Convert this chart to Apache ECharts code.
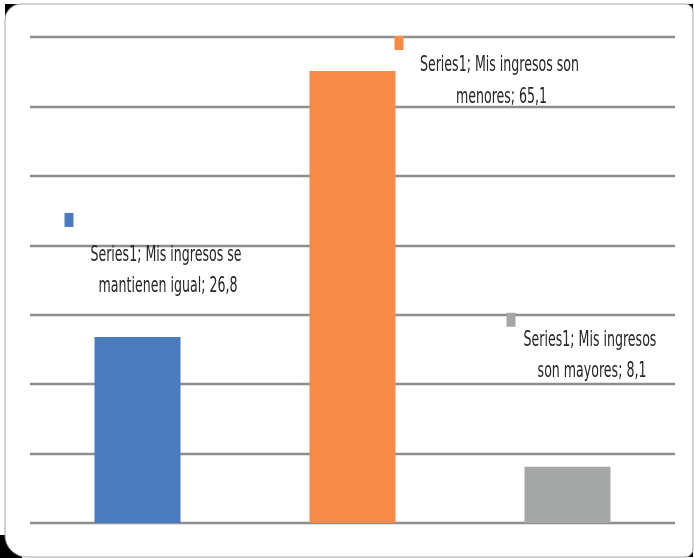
<!DOCTYPE html>
<html>
<head>
<meta charset="utf-8">
<script src="https://cdn.jsdelivr.net/npm/echarts@6/dist/echarts.min.js"></script>
<style>
  html, body { margin: 0; padding: 0; background: #ffffff; }
  #chart { width: 694px; height: 558px; }
</style>
</head>
<body>
<div id="chart"></div>
<script>
// Survey answers: how income has changed
const seriesName = 'Series1';
const categories = ['Mis ingresos se mantienen igual', 'Mis ingresos son menores', 'Mis ingresos son mayores'];
const values = [26.8, 65.1, 8.1];
const barColors = ['#4a7bbe', '#f58b47', '#a5a7a7'];

// Axis range (labels hidden, gridlines only)
const yMin = 0;
const yMax = 70;
const yStep = 10;

// Where each data label sits relative to the top of its bar
const labelLayout = [
  { textDx: 30.5, textDy: -66, wrap: 168, markDx: -73, markDy: -124 },
  { textDx: 149, textDy: 10, wrap: 178, markDx: 42, markDy: -35 },
  { textDx: 24.5, textDy: -111, wrap: 146, markDx: -61, markDy: -154 }
];

const fmt = v => String(v).replace('.', ',');
const FONT = "'Liberation Sans Narrow', 'DejaVu Sans Condensed', 'Arial Narrow', sans-serif";

const chart = echarts.init(document.getElementById('chart'), null, { renderer: 'canvas' });

const H = 558;
const fx = 5, fy = 4, fw = 688, fh = 553;

chart.setOption({
  animation: false,
  backgroundColor: '#ffffff',
  graphic: [
    { type: 'rect', z: -20, shape: { x: fx, y: fy, width: 16, height: 16 }, style: { fill: '#000' } },
    { type: 'rect', z: -20, shape: { x: fx + fw - 8, y: fy, width: 8, height: 8 }, style: { fill: '#000' } },
    { type: 'rect', z: -20, shape: { x: fx + fw - 8, y: fy + fh - 8, width: 8, height: 8 }, style: { fill: '#000' } },
    { type: 'rect', z: -20, shape: { x: 0, y: fy + fh - 22, width: 22, height: H - (fy + fh - 22) }, style: { fill: '#000' } },
    {
      type: 'rect', z: -10,
      shape: { x: fx, y: fy, width: fw, height: fh, r: [16, 8, 8, 22] },
      style: { fill: '#ffffff', stroke: '#a6a6a6', lineWidth: 1 }
    }
  ],
  grid: { left: 30, right: 19, top: 37, bottom: 35 },
  xAxis: {
    type: 'category',
    data: categories,
    axisLine: { show: false },
    axisTick: { show: false },
    axisLabel: { show: false }
  },
  yAxis: {
    type: 'value',
    min: yMin,
    max: yMax,
    interval: yStep,
    axisLine: { show: false },
    axisTick: { show: false },
    axisLabel: { show: false },
    splitLine: { lineStyle: { color: '#8e8e8e', width: 2.4 } }
  },
  series: [
    {
      name: seriesName,
      type: 'bar',
      barWidth: '40%',
      z: 3,
      data: values.map((v, i) => ({ value: v, itemStyle: { color: barColors[i] } }))
    },
    {
      name: seriesName + ' labels',
      type: 'custom',
      z: 5,
      silent: true,
      data: values.map((v, i) => [i, v]),
      renderItem: function (params, api) {
        const i = api.value(0);
        const top = api.coord([i, api.value(1)]);
        const L = labelLayout[i];
        const text = seriesName + '; ' + categories[i] + '; ' + fmt(values[i]);
        return {
          type: 'group',
          children: [
            {
              type: 'rect',
              shape: { x: top[0] + L.markDx, y: top[1] + L.markDy, width: 9, height: 14 },
              style: { fill: barColors[i] }
            },
            {
              type: 'group',
              x: top[0] + L.textDx,
              y: top[1] + L.textDy,
              scaleY: 1.55,
              children: [{
                type: 'text',
                x: 0,
                y: 0,
                style: {
                  text: text,
                  width: L.wrap,
                  overflow: 'break',
                  fill: '#262626',
                  font: '14px ' + FONT,
                  lineHeight: 20.5,
                  align: 'center',
                  verticalAlign: 'middle'
                }
              }]
            }
          ]
        };
      }
    }
  ]
});
</script>
</body>
</html>
